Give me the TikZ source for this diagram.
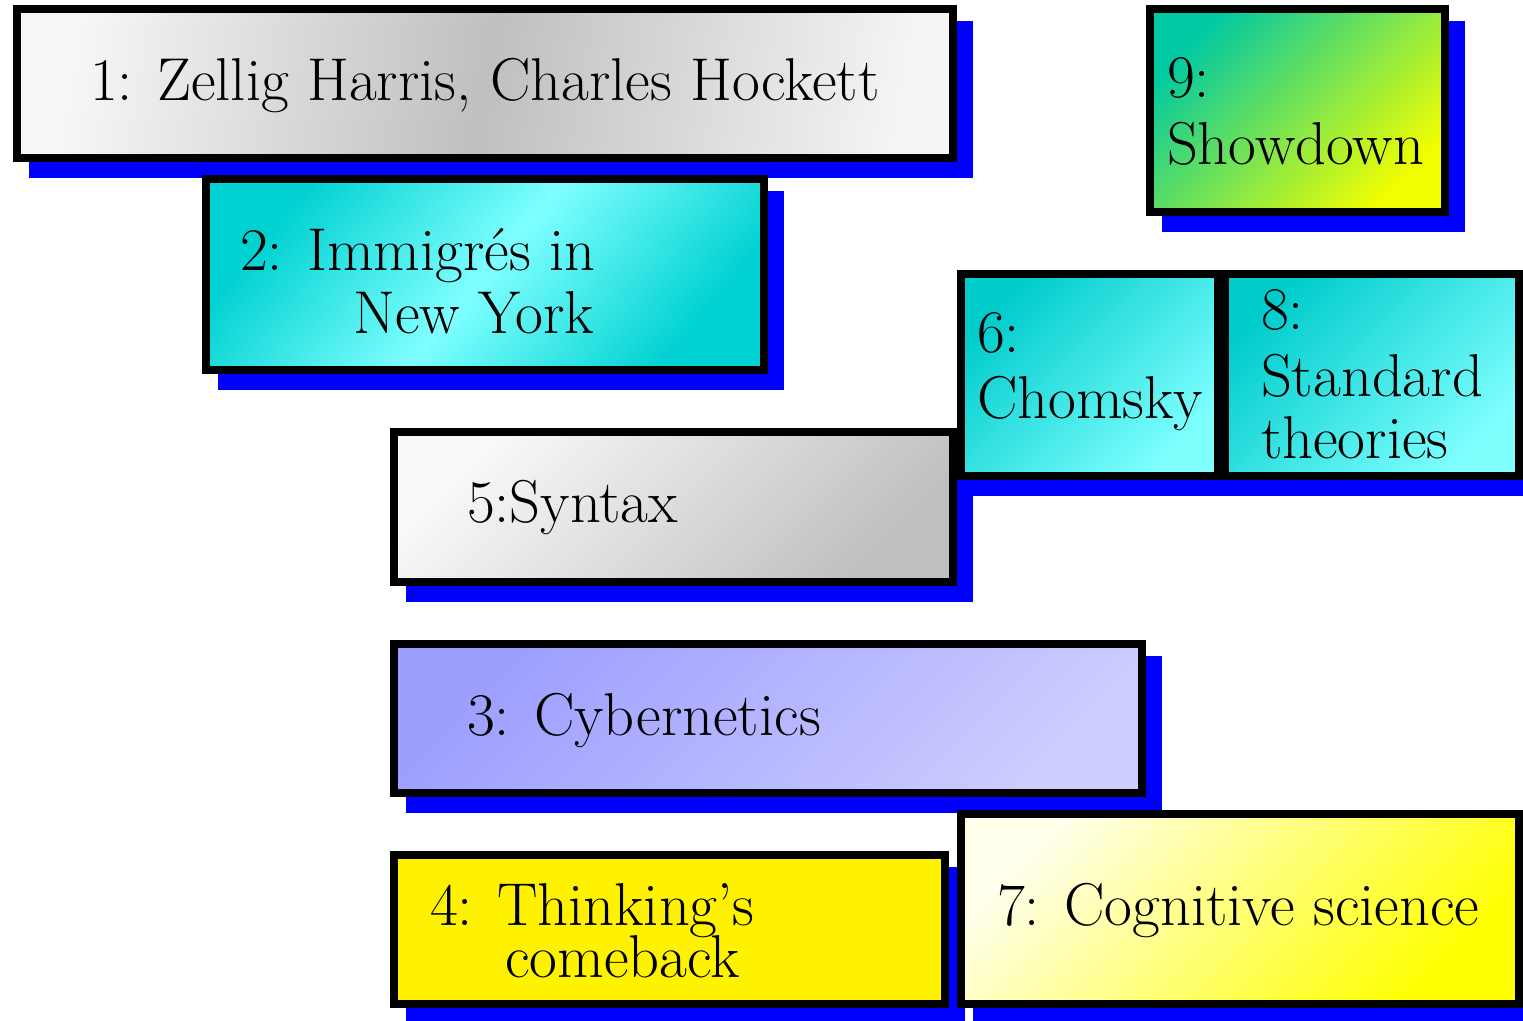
\documentclass[tikz,border=0pt]{standalone}
\usetikzlibrary{calc}
\tikzset{
  x=1pt, y=-1pt,
  box/.style={draw=black, line width=8pt, rectangle, inner sep=0pt, outer sep=4pt},
  shadowfill/.style={fill=blue},
  lbl/.style={anchor=base west, inner sep=0pt, outer sep=0pt, font=\fontsize{60.5}{72}\selectfont},
  silver/.style={left color=gray!7, right color=gray!9, middle color=gray!50, shading angle=80},
  aqua/.style={top color=cyan!82!black, bottom color=cyan!82!black, middle color=cyan!50, shading angle=50},
  aquatwo/.style={top color=cyan!80!black, bottom color=cyan!50, shading angle=45},
  lime/.style={top color=cyan!75!black!85!green, bottom color=yellow!95!green, shading angle=45},
  steel/.style={top color=gray!5, bottom color=gray!50, shading angle=45},
  lav/.style={top color=blue!38, bottom color=blue!20, shading angle=45},
  solidyellow/.style={fill=yellow},
  paleyellow/.style={top color=yellow!8, bottom color=yellow, shading angle=45},
}
\newcommand\tlbox[6]{%
  \fill[shadowfill] (#2+15.5,#3+15.5) rectangle (#4+15.5,#5+15.5);
  \node[box,#6,anchor=north west,minimum width={#4-#2-8},minimum height={#5-#3-8}] (#1) at (#2,#3) {};
}
\begin{document}
\begin{tikzpicture}
\useasboundingbox (0,0) rectangle (1523,1020);
\tlbox{b1}{13}{5}{957}{162}{silver}
\tlbox{b2}{202}{175}{768}{374}{aqua}
\tlbox{b3}{390}{640}{1146}{797}{lav}
\tlbox{b4}{390}{851}{949}{1008}{solidyellow}
\tlbox{b5}{390}{428}{957}{586}{steel}
\tlbox{b6}{957}{270}{1222}{480}{aquatwo}
\tlbox{b7}{957}{810}{1523}{1008}{paleyellow}
\tlbox{b8}{1221}{270}{1523}{480}{aquatwo}
\tlbox{b9}{1146}{5}{1449}{216}{lime}

\node[lbl] (t1) at (90,100) {1: Zellig Harris, Charles Hockett};
\node[lbl] (t2a) at (240,270) {2: Immigrés in};
\node[lbl, anchor=base east] (t2b) at (594,333) {New York};
\node[lbl] (t3) at (467,735) {3: Cybernetics};
\node[lbl] (t4a) at (430,925) {4: Thinking's};
\node[lbl] (t4b) at (505,977) {comeback};
\node[lbl] (t5) at (467,522) {5:Syntax};
\node[lbl] (t6a) at (977,352) {6:};
\node[lbl] (t6b) at (977,418) {Chomsky};
\node[lbl] (t7) at (997,925) {7: Cognitive science};
\node[lbl] (t8a) at (1261,329) {8:};
\node[lbl] (t8b) at (1261,396) {Standard};
\node[lbl] (t8c) at (1261,458) {theories};
\node[lbl] (t9a) at (1167,97) {9:};
\node[lbl] (t9b) at (1167,164) {Showdown};
\end{tikzpicture}
\end{document}
